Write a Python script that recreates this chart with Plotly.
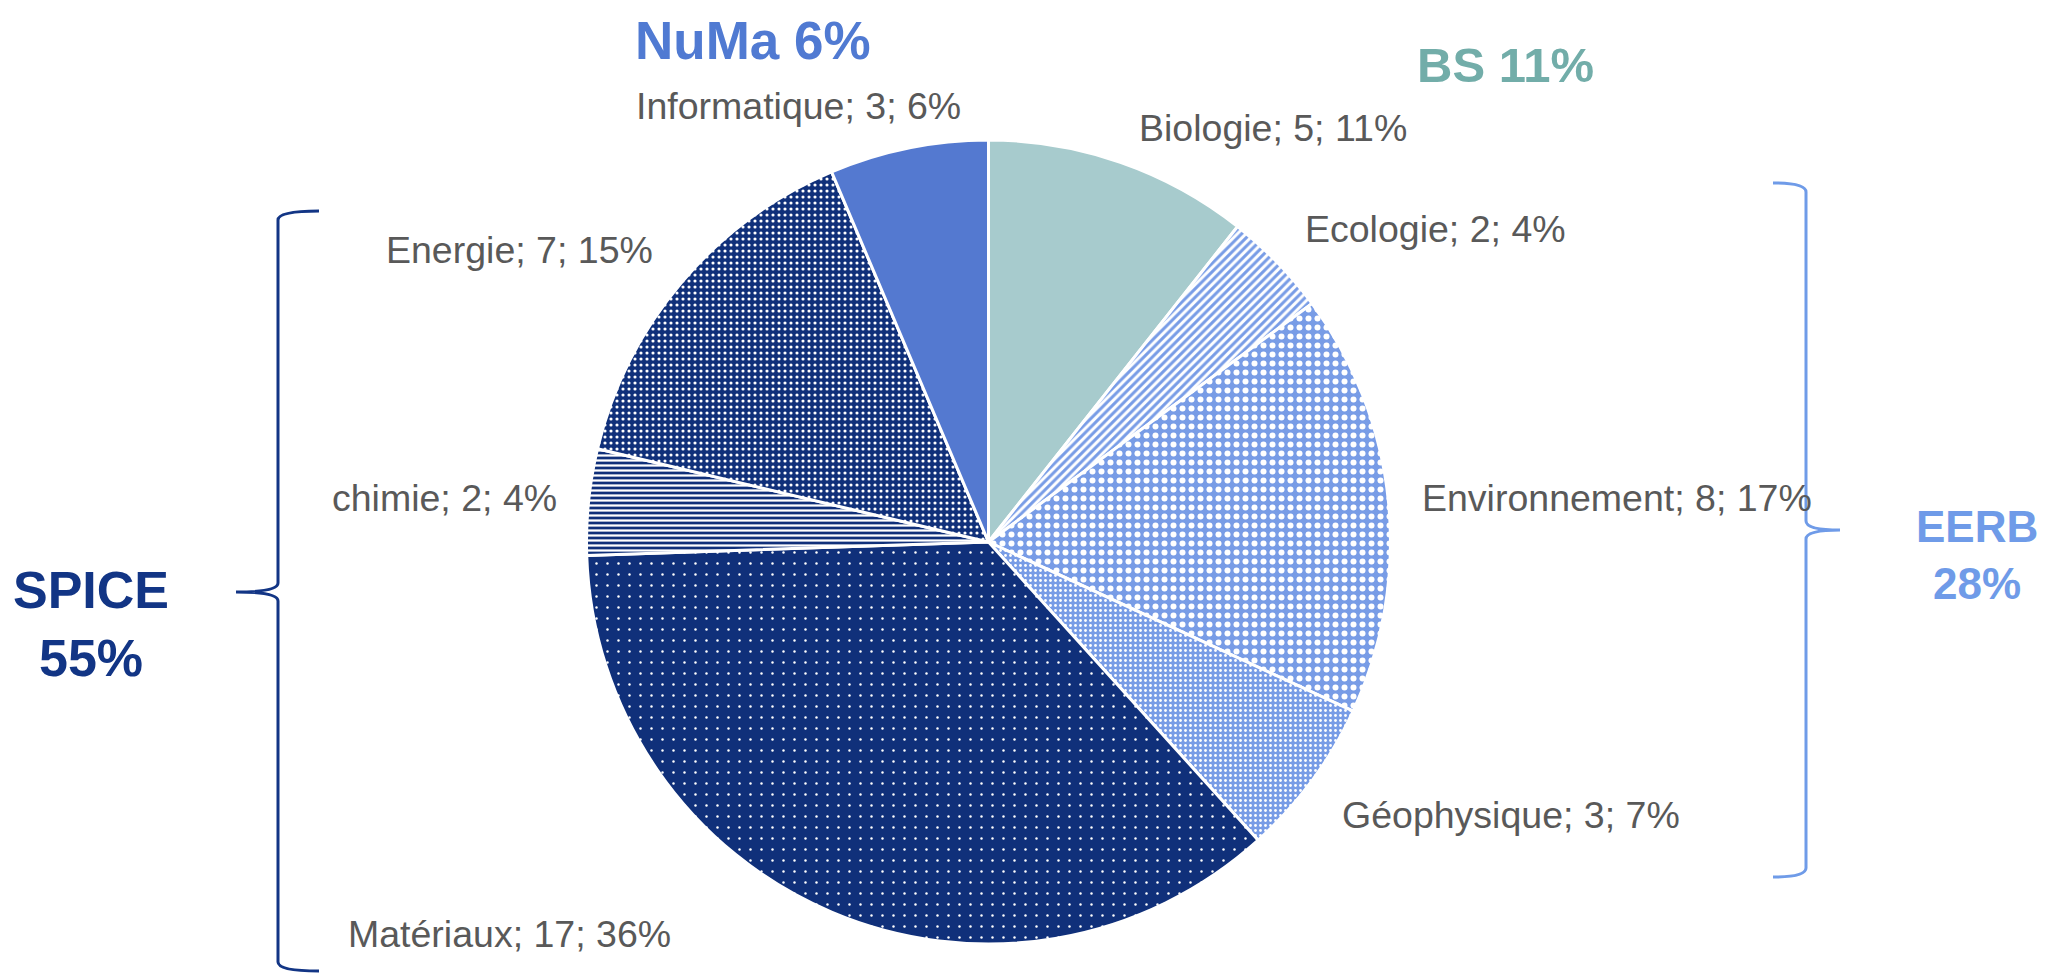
import plotly.graph_objects as go

W, H = 2046, 974

# ---- data ----
labels = ["Biologie", "Ecologie", "Environnement", "Géophysique",
          "Matériaux", "chimie", "Energie", "Informatique"]
values = [5, 2, 8, 3, 17, 2, 7, 3]
pct_labels = [11, 4, 17, 7, 36, 4, 15, 6]

groups = ["NuMa", "BS", "SPICE", "EERB"]
group_pct = [6, 11, 55, 28]

# ---- styles ----
NAVY = "#10307A"
LIGHT = "#789CE6"
TEAL = "#A7CBCD"
MID = "#5479D0"
GREY = "#595959"
FONT = "Liberation Sans, Arial, sans-serif"

slice_colors = [TEAL, LIGHT, LIGHT, LIGHT, NAVY, NAVY, NAVY, MID]
pat_shape = ["", "/", ".", ".", ".", "-", ".", ""]
pat_bg = [TEAL, "white", LIGHT, LIGHT, NAVY, NAVY, NAVY, MID]
pat_fg = [TEAL, LIGHT, "white", "white", "white", "white", "white", MID]
pat_size = [8, 6, 9, 5, 11, 5, 6, 8]
pat_sol = [0.3, 0.5, 0.35, 0.25, 0.04, 0.45, 0.22, 0.3]

DX, DY = -9, -10  # global offset

# label positions (pixel centres)
label_pos = [(1274, 130), (1436, 231), (1618, 500), (1512, 817),
             (510, 936), (445, 500), (520, 252), (799, 108)]
group_pos = [(754, 42), (1506, 67), (92, 626), (1978, 557)]
group_colors = ["#507AD2", "#72ADA9", "#123585", "#6F9BE8"]
group_sizes = [53, 49, 52, 44]


def px(x):
    return (x + DX) / W


def py(y):
    return 1 - (y + DY) / H


fig = go.Figure()
fig.add_trace(go.Pie(
    labels=labels,
    values=values,
    sort=False,
    direction="clockwise",
    rotation=0,
    textinfo="none",
    hoverinfo="label+value+percent",
    domain=dict(x=[px(587), px(1392)], y=[py(946), py(142)]),
    marker=dict(
        colors=slice_colors,
        line=dict(color="white", width=3),
        pattern=dict(shape=pat_shape, bgcolor=pat_bg, fgcolor=pat_fg,
                     size=pat_size, solidity=pat_sol, fillmode="replace"),
    ),
    showlegend=False,
))

annotations = []
for lab, v, p, (x, y) in zip(labels, values, pct_labels, label_pos):
    annotations.append(dict(
        x=px(x), y=py(y), xref="paper", yref="paper",
        text=f"{lab}; {v}; {p}%", showarrow=False,
        xanchor="center", yanchor="middle",
        font=dict(family=FONT, size=37.5, color=GREY),
    ))

for g, p, (x, y), c, s in zip(groups, group_pct, group_pos, group_colors, group_sizes):
    if g in ("SPICE", "EERB"):
        txt = f"<b>{g}<br>{p}%</b>"
    else:
        txt = f"<b>{g} {p}%</b>"
    annotations.append(dict(
        x=px(x), y=py(y), xref="paper", yref="paper",
        text=txt, showarrow=False, xanchor="center", yanchor="middle",
        align="center",
        font=dict(family=FONT, size=s, color=c),
    ))


def brace_path(xv, xend, xtip, ytop, ymid, ybot):
    d = 9
    pts = [
        f"M {px(xend)},{py(ytop)}",
        f"Q {px(xv)},{py(ytop)} {px(xv)},{py(ytop + d)}",
        f"L {px(xv)},{py(ymid - d)}",
        f"Q {px(xv)},{py(ymid)} {px(xtip)},{py(ymid)}",
        f"Q {px(xv)},{py(ymid)} {px(xv)},{py(ymid + d)}",
        f"L {px(xv)},{py(ybot - d)}",
        f"Q {px(xv)},{py(ybot)} {px(xend)},{py(ybot)}",
    ]
    return " ".join(pts)


shapes = [
    dict(type="path", xref="paper", yref="paper",
         path=brace_path(279, 320, 237, 213, 594, 973),
         line=dict(color="#123585", width=3)),
    dict(type="path", xref="paper", yref="paper",
         path=brace_path(1807, 1774, 1841, 185, 532, 879),
         line=dict(color="#6F9BE8", width=3)),
]

fig.update_layout(
    width=W, height=H,
    margin=dict(l=0, r=0, t=0, b=0),
    paper_bgcolor="white", plot_bgcolor="white",
    annotations=annotations, shapes=shapes,
)

fig.write_html("out.html")
